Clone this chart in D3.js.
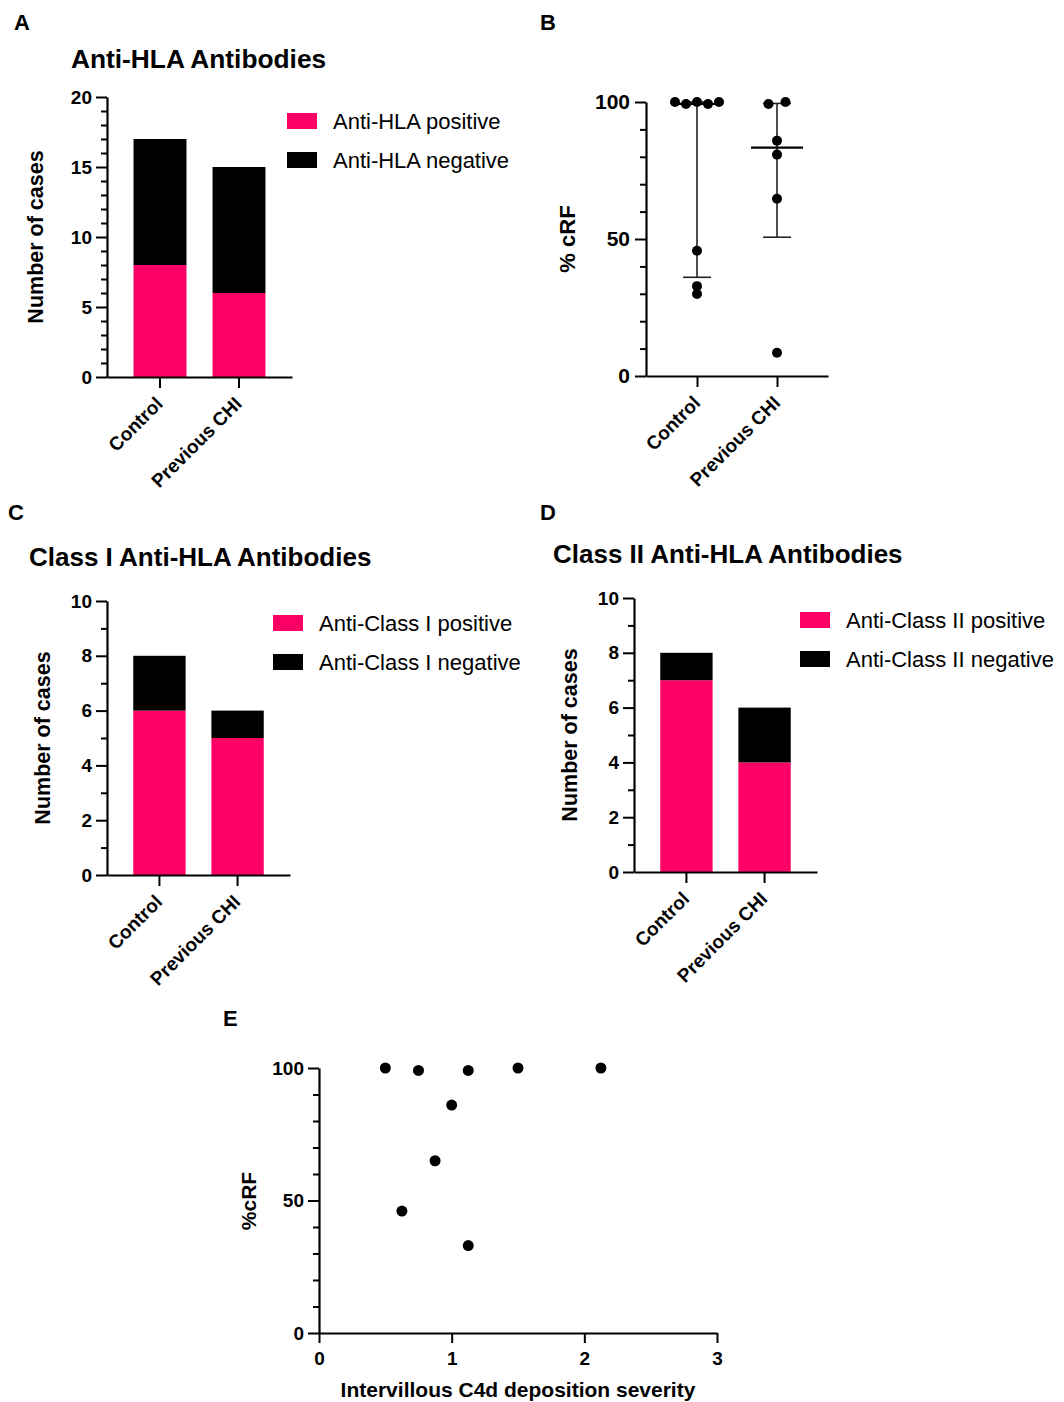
<!DOCTYPE html>
<html><head><meta charset="utf-8">
<script src="https://cdn.jsdelivr.net/npm/d3@7"></script>
<style>
body{margin:0;background:#fff}
svg{display:block}
text{font-family:"Liberation Sans",Arial,Helvetica,sans-serif;fill:#000}
</style>
</head><body>
<svg id="chart" width="1064" height="1402"></svg>
<script>
// ---------------- DATA ----------------
const groups = ["Control", "Previous CHI"];
const hlaPositive = [8, 6];
const hlaNegative = [9, 9];
const classIPositive = [6, 5];
const classINegative = [2, 1];
const classIIPositive = [7, 4];
const classIINegative = [1, 2];
const crfControl = [100, 99.3, 100, 99.3, 100, 45.7, 32.8, 29.9];
const crfPrevious = [99.3, 100, 85.9, 80.8, 64.7, 8.5];
const c4dSeverity = [0.5, 0.75, 1.125, 1.5, 2.125, 1.0, 0.875, 0.625, 1.125];
const c4dCrf = [100, 99.1, 99.1, 100, 100, 86, 65, 46, 33];
const countTicks20 = [0, 5, 10, 15, 20];
const countTicks10 = [0, 2, 4, 6, 8, 10];
const crfTicks = [0, 50, 100];
const severityTicks = [0, 1, 2, 3];

const pink = "#ff0066";
const svg = d3.select("#chart");

function styleAxis(g) {
  g.selectAll("path.domain").attr("stroke", "#000").attr("stroke-width", 2.2);
  g.selectAll(".tick line").attr("stroke", "#000").attr("stroke-width", 2);
  g.selectAll(".tick text").attr("font-weight", "bold").attr("fill", "#000");
}

function yAxis(g, y, x0, majors, minors, fs, tickPad) {
  const a = g.append("g").attr("transform", `translate(${x0},0)`)
    .call(d3.axisLeft(y).tickValues(majors).tickSize(11).tickSizeOuter(0).tickPadding(tickPad || 4).tickFormat(d3.format("d")));
  styleAxis(a);
  a.selectAll(".tick text").attr("font-size", fs);
  const m = g.append("g").attr("transform", `translate(${x0},0)`)
    .call(d3.axisLeft(y).tickValues(minors).tickSize(6).tickFormat(""));
  m.select("path.domain").remove();
  styleAxis(m);
}

function catXAxis(g, x, yPos, fs) {
  const a = g.append("g").attr("transform", `translate(0,${yPos})`)
    .call(d3.axisBottom(x).tickSize(11).tickSizeOuter(0).tickPadding(0));
  styleAxis(a);
  a.selectAll(".tick text")
    .attr("font-size", fs)
    .attr("text-anchor", "end")
    .attr("x", 0).attr("y", 0).attr("dy", 0)
    .attr("transform", "translate(4,28) rotate(-45)");
}

function label(txt, x, y, fs, weight, anchor) {
  return svg.append("text").attr("x", x).attr("y", y).attr("font-size", fs)
    .attr("font-weight", weight || "bold").attr("text-anchor", anchor || "start").text(txt);
}

function vLabel(txt, x, y, fs) {
  return svg.append("text").attr("transform", `translate(${x},${y}) rotate(-90)`)
    .attr("font-size", fs).attr("font-weight", "bold").attr("text-anchor", "middle").text(txt);
}

function stackedPanel(o) {
  const g = svg.append("g");
  const x = d3.scaleBand().domain(groups).range([o.x0, o.x1]).paddingInner(0.33).paddingOuter(0.336);
  const y = d3.scaleLinear().domain([0, o.max]).range([o.yB, o.yT]);
  const data = groups.map((k, i) => ({ k, pos: o.pos[i], neg: o.neg[i] }));
  const series = d3.stack().keys(["pos", "neg"])(data);
  g.selectAll("g.layer").data(series).join("g").attr("class", "layer")
    .attr("fill", (d, i) => i ? "#000" : pink)
    .selectAll("rect").data(d => d).join("rect")
    .attr("x", d => x(d.data.k)).attr("width", x.bandwidth())
    .attr("y", d => y(d[1])).attr("height", d => y(d[0]) - y(d[1]));
  yAxis(g, y, o.x0, o.majors, d3.range(0, o.max + 0.001, o.minorStep).filter(v => !o.majors.includes(v)), 19);
  catXAxis(g, x, o.yB, 19);
  // legend
  const lg = svg.append("g").attr("transform", `translate(${o.lx},${o.ly})`);
  o.legend.forEach((t, i) => {
    lg.append("rect").attr("x", 0).attr("y", i * 39).attr("width", 30).attr("height", 16).attr("fill", i ? "#000" : pink);
    lg.append("text").attr("x", 46).attr("y", i * 39 + 15.5).attr("font-size", 22).text(t);
  });
  vLabel("Number of cases", o.x0 - o.titleOff, (o.yT + o.yB) / 2, 21.5);
}

// Panel letters and titles
label("A", 14, 30, 22);
label("B", 540, 30, 22);
label("C", 8, 520, 22);
label("D", 540, 520, 22);
label("E", 223, 1026, 22);
label("Anti-HLA Antibodies", 71, 68, 26.3);
label("Class I Anti-HLA Antibodies", 29, 566, 26);
label("Class II Anti-HLA Antibodies", 553, 563, 26);

// Panel A
stackedPanel({ x0: 107, x1: 292, yB: 377, yT: 97, max: 20, majors: countTicks20, minorStep: 1, titleOff: 64,
  pos: hlaPositive, neg: hlaNegative, lx: 287, ly: 113, legend: ["Anti-HLA positive", "Anti-HLA negative"] });
// Panel C
stackedPanel({ x0: 107, x1: 290, yB: 875, yT: 601, max: 10, majors: countTicks10, minorStep: 1, titleOff: 57,
  pos: classIPositive, neg: classINegative, lx: 273, ly: 615, legend: ["Anti-Class I positive", "Anti-Class I negative"] });
// Panel D
stackedPanel({ x0: 634, x1: 817, yB: 872, yT: 598, max: 10, majors: countTicks10, minorStep: 1, titleOff: 57,
  pos: classIIPositive, neg: classIINegative, lx: 800, ly: 612, legend: ["Anti-Class II positive", "Anti-Class II negative"] });

// Panel B: scatter with median and interquartile range
function gpQuantile(arr, p) {
  const s = arr.slice().sort((a, b) => a - b), n = s.length;
  const pos = (n + 1) * p;
  if (pos <= 1) return s[0];
  if (pos >= n) return s[n - 1];
  const lo = Math.floor(pos);
  return s[lo - 1] + (pos - lo) * (s[lo] - s[lo - 1]);
}
(function () {
  const g = svg.append("g");
  const x = d3.scalePoint().domain(groups).range([646, 828]).padding(0.6375);
  const y = d3.scaleLinear().domain([0, 100]).range([376, 102]);
  const sets = [crfControl, crfPrevious];
  sets.forEach((vals, gi) => {
    const cx = x(groups[gi]);
    const q1 = gpQuantile(vals, 0.25), med = gpQuantile(vals, 0.5), q3 = gpQuantile(vals, 0.75);
    g.append("line").attr("x1", cx).attr("x2", cx).attr("y1", y(q1)).attr("y2", y(q3)).attr("stroke", "#222").attr("stroke-width", 1.6);
    [q1, q3].forEach(q => g.append("line").attr("x1", cx - 14).attr("x2", cx + 14).attr("y1", y(q)).attr("y2", y(q)).attr("stroke", "#222").attr("stroke-width", 1.6));
    g.append("line").attr("x1", cx - 26).attr("x2", cx + 26).attr("y1", y(med)).attr("y2", y(med)).attr("stroke", "#000").attr("stroke-width", 2.2);
    const pts = vals.map((v, i) => {
      const cl = vals.map((w, j) => ({ w, j })).filter(d => Math.abs(d.w - v) < 1.5);
      const rank = cl.findIndex(d => d.j === i);
      return { v, dx: (rank - (cl.length - 1) / 2) * (cl.length > 2 ? 11 : 17) };
    });
    g.selectAll(null).data(pts).join("circle")
      .attr("cx", d => cx + d.dx).attr("cy", d => y(d.v)).attr("r", 5).attr("fill", "#000");
  });
  yAxis(g, y, 646, crfTicks, d3.range(10, 100, 10).filter(v => v !== 50), 21, 5);
  catXAxis(g, x, 376, 19);
  vLabel("% cRF", 575, 239, 22);
})();

// Panel E
(function () {
  const g = svg.append("g");
  const x = d3.scaleLinear().domain([0, 3]).range([319, 717]);
  const y = d3.scaleLinear().domain([0, 100]).range([1333, 1068]);
  g.selectAll("circle").data(c4dSeverity.map((s, i) => ({ s, c: c4dCrf[i] }))).join("circle")
    .attr("cx", d => x(d.s)).attr("cy", d => y(d.c)).attr("r", 5.5).attr("fill", "#000");
  yAxis(g, y, 319, crfTicks, d3.range(10, 100, 10).filter(v => v !== 50), 19, 4);
  const a = g.append("g").attr("transform", "translate(0,1333)")
    .call(d3.axisBottom(x).tickValues(severityTicks).tickSize(10).tickSizeOuter(0).tickPadding(9).tickFormat(d3.format("d")));
  styleAxis(a);
  a.selectAll(".tick text").attr("font-size", 19);
  label("Intervillous C4d deposition severity", 518, 1397, 21, "bold", "middle");
  vLabel("%cRF", 256, 1201, 21);
})();
</script>
</body></html>
